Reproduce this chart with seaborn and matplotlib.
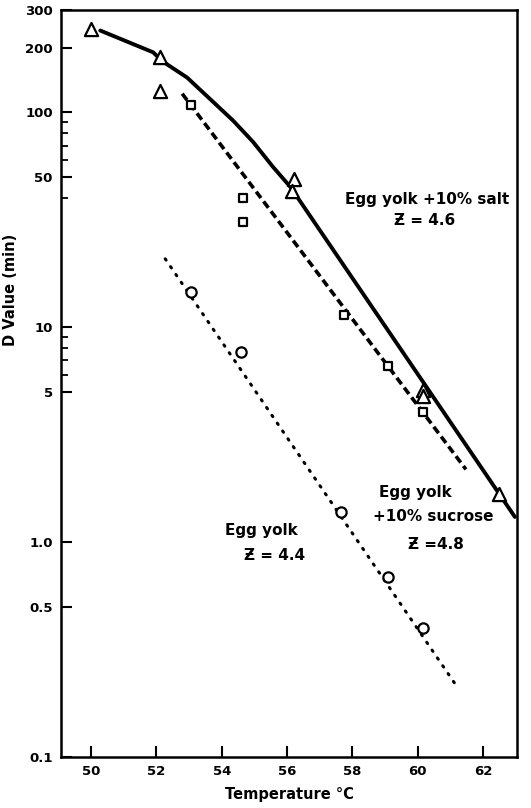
import numpy as np
import pandas as pd
import seaborn as sns
import matplotlib.pyplot as plt
from matplotlib.ticker import FixedLocator, NullFormatter

# measured D values (min)
salt_t = [50.0, 52.1, 52.1, 56.2, 56.15, 60.15, 60.15, 62.5]
salt_d = [245, 180, 125, 49, 43, 5.1, 4.8, 1.68]
sucrose_t = [53.05, 54.65, 54.65, 57.75, 59.1, 60.15]
sucrose_d = [108, 40, 31, 11.4, 6.6, 4.03]
yolk_t = [53.05, 54.6, 57.65, 59.1, 60.15]
yolk_d = [14.6, 7.65, 1.38, 0.69, 0.40]

# fitted curves
salt_line_t = [50.28, 51.9, 52.2, 52.94, 53.73, 54.35, 54.96, 55.57, 56.1, 62.98]
salt_line_d = [240, 190, 172, 145, 112, 91.4, 72.8, 55.7, 45, 1.31]
sucrose_line_t = [52.79, 61.48]
sucrose_line_d = [122, 2.18]
yolk_line_t = [52.27, 61.14]
yolk_line_d = [20.8, 0.22]

yticks = [0.1, 0.5, 1.0, 5, 10, 50, 100, 200, 300]
ytick_labels = ['0.1', '0.5', '1.0', '5', '10', '50', '100', '200', '300']
yminor = [6, 7, 8, 9, 40, 60, 70, 80, 90]
xticks = [50, 52, 54, 56, 58, 60, 62]

sns.set_style("ticks")
plt.rcParams['font.family'] = ['DejaVu Sans']
plt.rcParams['font.weight'] = 'bold'
for k in ['text.color', 'axes.labelcolor', 'xtick.color', 'ytick.color', 'axes.edgecolor']:
    plt.rcParams[k] = 'black'

fig = plt.figure(figsize=(5.31, 8.08), dpi=100)
ax = fig.add_axes([0.115, 0.063, 0.859, 0.925])

sns.lineplot(x=salt_line_t, y=salt_line_d, ax=ax, color='black', lw=2.8,
             sort=False, estimator=None)
sns.lineplot(x=sucrose_line_t, y=sucrose_line_d, ax=ax, color='black', lw=2.6,
             sort=False, estimator=None, linestyle=(0, (2.2, 1.2)))
sns.lineplot(x=yolk_line_t, y=yolk_line_d, ax=ax, color='black', lw=2.2,
             sort=False, estimator=None, linestyle=(0, (0.5, 2.6)))
ax.lines[-1].set_dash_capstyle('round')
ax.lines[0].set_solid_joinstyle('round')

sns.scatterplot(x=salt_t, y=salt_d, ax=ax, marker='^', s=90, facecolor='white',
                edgecolor='black', linewidth=1.6, zorder=5)
sns.scatterplot(x=sucrose_t, y=sucrose_d, ax=ax, marker='s', s=38, facecolor='white',
                edgecolor='black', linewidth=1.6, zorder=5)
sns.scatterplot(x=yolk_t, y=yolk_d, ax=ax, marker='o', s=55, facecolor='white',
                edgecolor='black', linewidth=1.6, zorder=5)

ax.set_yscale('log')
ax.set_xlim(49.08, 63.05)
ax.set_ylim(0.1, 300)
ax.yaxis.set_major_locator(FixedLocator(yticks))
ax.set_yticklabels(ytick_labels)
ax.yaxis.set_minor_locator(FixedLocator(yminor))
ax.yaxis.set_minor_formatter(NullFormatter())
ax.set_xticks(xticks)
ax.tick_params(axis='both', which='major', direction='in', length=8, width=1.5,
               labelsize=9.5, pad=6)
ax.tick_params(axis='y', which='minor', direction='in', length=5, width=1.3)
for lab in ax.get_xticklabels() + ax.get_yticklabels():
    lab.set_fontweight('bold')
for sp in ax.spines.values():
    sp.set_visible(True)
    sp.set_linewidth(1.8)

ax.set_xlabel('Temperature \u00b0C', fontsize=10.5, fontweight='bold', labelpad=6)
ax.set_ylabel('D Value (min)', fontsize=10.5, fontweight='bold')
ax.yaxis.set_label_coords(-0.094, 0.625)

txt = dict(ha='center', va='center', fontsize=11, fontweight='bold')
ax.text(60.28, 39.2, 'Egg yolk +10% salt', **txt)
ax.text(60.22, 31.4, '\u01b5 = 4.6', **txt)
ax.text(59.92, 1.70, 'Egg yolk', **txt)
ax.text(60.47, 1.31, '+10% sucrose', **txt)
ax.text(60.56, 0.97, '\u01b5 =4.8', **txt)
ax.text(55.23, 1.13, 'Egg yolk', **txt)
ax.text(55.63, 0.87, '\u01b5 = 4.4', **txt)

fig.savefig('out.png', dpi=100)
